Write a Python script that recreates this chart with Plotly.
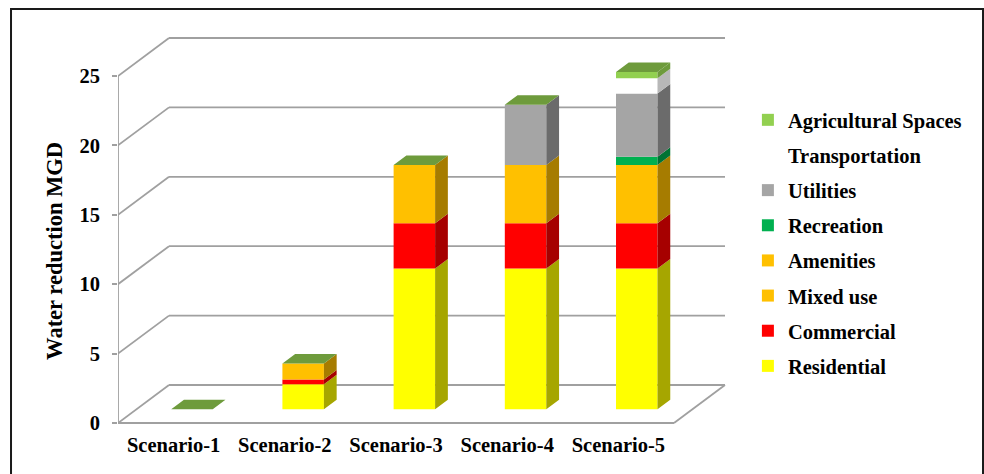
import plotly.graph_objects as go

# ---- data -------------------------------------------------------------
scenarios = ["Scenario-1", "Scenario-2", "Scenario-3", "Scenario-4", "Scenario-5"]
residential = [0, 1.8, 10.15, 10.15, 10.15]
commercial = [0, 0.35, 3.25, 3.25, 3.25]
mixed_use = [0, 1.15, 4.2, 4.2, 4.2]
amenities = [0, 0, 0, 0, 0]
recreation = [0, 0, 0, 0, 0.6]
utilities = [0, 0, 0, 4.35, 4.55]
transportation = [0, 0, 0, 0, 1.1]
agricultural = [0, 0, 0, 0, 0.45]
y_ticks = [0, 5, 10, 15, 20, 25]

# (name, values, front colour, side colour) from bottom of the stack upward
series = [
    ("Residential", residential, "#FFFF00", "#A6A600"),
    ("Commercial", commercial, "#FF0000", "#A60000"),
    ("Mixed use", mixed_use, "#FFC000", "#A67C00"),
    ("Amenities", amenities, "#FFC000", "#A67C00"),
    ("Recreation", recreation, "#00B050", "#007333"),
    ("Utilities", utilities, "#A5A5A5", "#6B6B6B"),
    ("Transportation", transportation, "#FFFFFF", "#B8B8B8"),
    ("Agricultural Spaces", agricultural, "#92D050", "#6E9B3C"),
]
TOP_COLOR = "#6E9B3C"
GRID = "#A0A0A0"
FONT = "'Liberation Serif', 'Times New Roman', Times, serif"
FS = 20.5

# ---- pseudo-3D geometry (data units) -----------------------------------
PX_X, PX_Y = 111.2, 13.88          # pixels per category / per value unit
DEPTH_X, DEPTH_Y = 51 / PX_X, 38 / PX_Y   # full floor depth
FRONT = 0.36                       # bar front face position within the depth
THICK = 0.25                       # bar depth
BAR_W = 41.5 / PX_X
ox, oy = FRONT * DEPTH_X, FRONT * DEPTH_Y
dx, dy = THICK * DEPTH_X, THICK * DEPTH_Y
n = len(scenarios)
x_left, x_right = -0.5, n - 0.5

fig = go.Figure()

# front faces: real bars, shifted back into the floor
base = [0.0] * n
bases = []
for k, (name, vals, col, side) in enumerate(series):
    bases.append(list(base))
    fig.add_trace(go.Bar(
        x=[i + ox for i in range(n)], y=vals,
        base=[b + oy for b in base], width=BAR_W,
        name=name, marker=dict(color=col, line=dict(width=0)),
        legendgroup=name, legendrank=len(series) - k, hoverinfo="skip",
    ))
    base = [b + v for b, v in zip(base, vals)]
totals = base

# side faces
for (name, vals, col, side), bse in zip(series, bases):
    xs, ys = [], []
    for i in range(n):
        if vals[i] <= 0:
            continue
        xr = i + ox + BAR_W / 2
        y0, y1 = bse[i] + oy, bse[i] + vals[i] + oy
        xs += [xr, xr, xr + dx, xr + dx, xr, None]
        ys += [y0, y1, y1 + dy, y0 + dy, y0, None]
    if xs:
        fig.add_trace(go.Scatter(x=xs, y=ys, mode="lines", fill="toself",
                                 fillcolor=side, line=dict(width=0, color=side),
                                 showlegend=False, hoverinfo="skip"))

# top faces
xs, ys = [], []
for i in range(n):
    xl, xr = i + ox - BAR_W / 2, i + ox + BAR_W / 2
    t = totals[i] + oy
    xs += [xl, xr, xr + dx, xl + dx, xl, None]
    ys += [t, t, t + dy, t + dy, t, None]
fig.add_trace(go.Scatter(x=xs, y=ys, mode="lines", fill="toself",
                         fillcolor=TOP_COLOR, line=dict(width=0, color=TOP_COLOR),
                         showlegend=False, hoverinfo="skip"))

# walls, floor and gridlines
shapes = []
def seg(x0, y0, x1, y1, w=1.8):
    shapes.append(dict(type="line", xref="x", yref="y", x0=x0, y0=y0, x1=x1, y1=y1,
                       line=dict(color=GRID, width=w), layer="below"))

for v in y_ticks:
    seg(x_left, v, x_left + DEPTH_X, v + DEPTH_Y)
    seg(x_left + DEPTH_X, v + DEPTH_Y, x_right + DEPTH_X, v + DEPTH_Y)
seg(x_left, 0, x_right, 0)
seg(x_right, 0, x_right + DEPTH_X, DEPTH_Y)
seg(x_left, 0, x_left, y_ticks[-1])

# outer frame
shapes.append(dict(type="rect", xref="paper", yref="paper",
                   x0=-0.172, x1=1.3907, y0=-0.15, y1=1.0525,
                   line=dict(color="#1A1A1A", width=2)))

L, R, T, B = 118, 244, 30, 44
W, H = 984, 474
plot_w, plot_h = W - L - R, H - T - B
x_max = x_left + plot_w / PX_X
y_min = -(H - B - 423) / PX_Y
y_max = (423 - T) / PX_Y

fig.update_layout(
    width=W, height=H,
    margin=dict(l=L, r=R, t=T, b=B),
    paper_bgcolor="white", plot_bgcolor="white",
    barmode="overlay",
    shapes=shapes,
    font=dict(family=FONT, size=FS, color="black"),
    xaxis=dict(range=[x_left, x_max], tickvals=list(range(n)), ticktext=scenarios,
               showgrid=False, zeroline=False, showline=False, ticks="",
               tickfont=dict(family=FONT, size=FS, weight="bold"),
               ticklabelstandoff=0),
    yaxis=dict(range=[y_min, y_max], tickvals=y_ticks, showgrid=False,
               zeroline=False, showline=False, ticks="outside", ticklen=5,
               tickcolor=GRID, tickwidth=1.5, ticklabelstandoff=8,
               tickfont=dict(family=FONT, size=FS, weight="bold")),
    legend=dict(x=1.0127, y=0.825, xanchor="left", yanchor="top",
                traceorder="grouped", tracegroupgap=5.5,
                font=dict(family=FONT, size=FS, weight="bold"),
                bgcolor="rgba(0,0,0,0)"),
    annotations=[dict(text="<b>Water reduction MGD</b>", xref="paper", yref="y",
                      x=-0.1013, y=12.4, xanchor="center", yanchor="middle",
                      showarrow=False, textangle=-90,
                      font=dict(family=FONT, size=22.5))],
)

fig.write_html("out.html")
